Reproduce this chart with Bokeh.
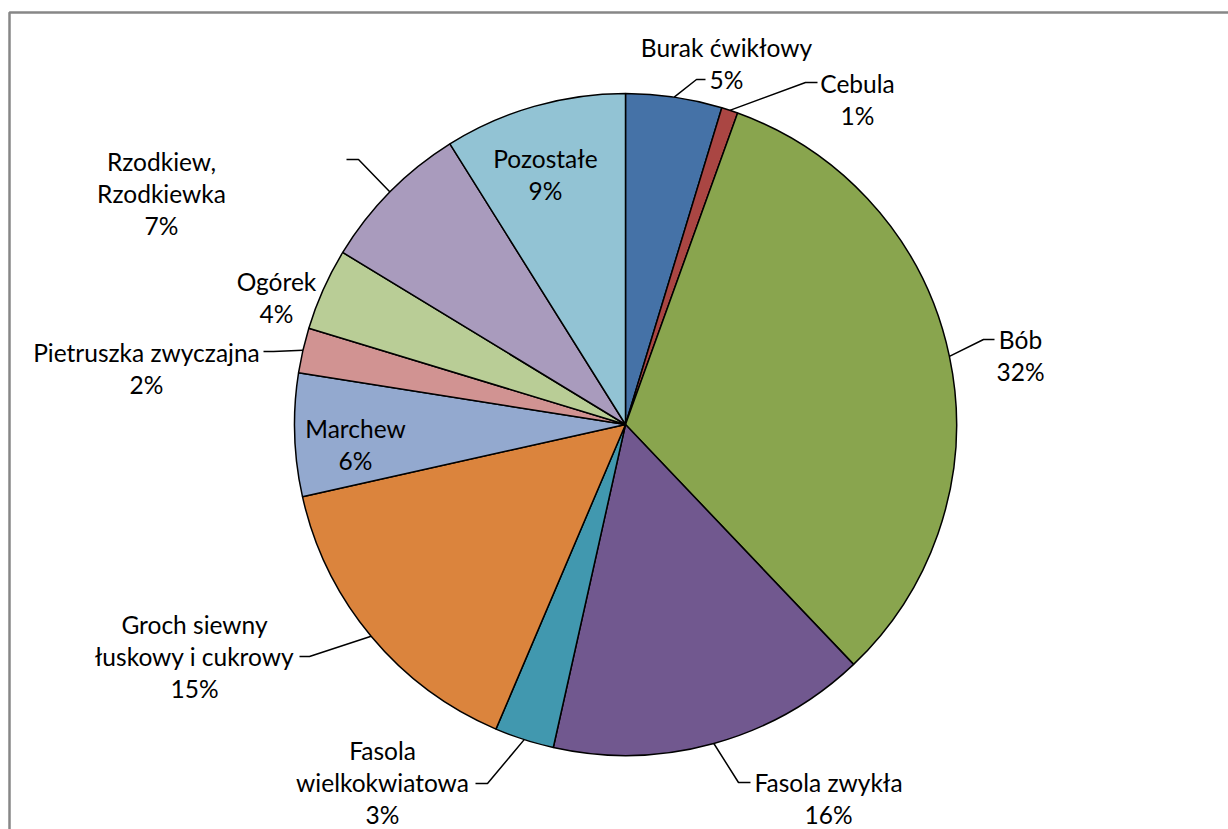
import math
from bokeh.plotting import figure
from bokeh.models import Range1d, ColumnDataSource
from bokeh.core.properties import value
from bokeh.embed import file_html
from bokeh.resources import INLINE

# ---- data ----
names = ["Burak ćwikłowy", "Cebula", "Bób", "Fasola zwykła", "Fasola\nwielkokwiatowa",
         "Groch siewny\nłuskowy i cukrowy", "Marchew", "Pietruszka zwyczajna", "Ogórek",
         "Rzodkiew,\nRzodkiewka", "Pozostałe"]
shares = [4.7, 0.8, 32.4, 15.6, 2.9, 15.1, 6.0, 2.2, 4.0, 7.4, 8.9]
colors = ["#4572A7", "#AA4643", "#89A54E", "#71588F", "#4198AF", "#DB843D",
          "#93A9CF", "#D19392", "#B9CD96", "#A99BBD", "#92C3D4"]

# ---- layout (picture pixel coordinates) ----
W, H = 1228, 829
CX, CY, R = 625, 424, 331
FONT = "Lato"
FS = 24.5
LINE_H = 32
# label anchor: (centre x, baseline of first line)
label_pos = [(726, 47), (857, 83), (1020, 339), (828, 782), (382, 750), (194, 624),
             (355, 428), (146, 352), (276, 281), (161, 161), (545, 158)]
# leader lines: (elbow, end) or None
leaders = [((696, 79), (705, 79)), ((805, 82), (817, 82)), ((983, 339), (994, 339)),
           ((738, 782), (750, 782)), ((487, 783), (475, 783)), ((309, 656), (299, 656)),
           None, ((273, 351), (263, 351)), None, ((358, 159), (346, 159)), None]


def dy(py):  # picture y -> data y
    return H - py


p = figure(width=W, height=H, output_backend="svg", toolbar_location=None,
           x_range=Range1d(0, W), y_range=Range1d(0, H),
           min_border=0, min_border_left=0, min_border_right=0,
           min_border_top=0, min_border_bottom=0)
p.xaxis.visible = False
p.yaxis.visible = False
p.grid.visible = False
p.outline_line_color = None
p.background_fill_color = "white"
p.border_fill_color = "white"

# chart border (top and left edges visible)
p.line([9, 9, W], [dy(H), dy(12), dy(12)], line_color="#878787", line_width=2.5)

total = sum(shares)
starts, ends, mids = [], [], []
acc = 0.0
for v in shares:
    a0 = math.pi / 2 - 2 * math.pi * acc / total
    acc += v
    a1 = math.pi / 2 - 2 * math.pi * acc / total
    starts.append(a0)
    ends.append(a1)
    mids.append((a0 + a1) / 2)

src = ColumnDataSource(dict(x=[CX] * len(shares), y=[dy(CY)] * len(shares),
                            start=starts, end=ends, color=colors))
p.wedge(x="x", y="y", radius=R, start_angle="start", end_angle="end",
        direction="clock", fill_color="color", line_color="black", line_width=1.5,
        source=src)

# leader lines
for m, ld in zip(mids, leaders):
    if ld is None:
        continue
    sx = CX + R * math.cos(m)
    sy = dy(CY) + R * math.sin(m)
    (ex, ey), (fx, fy) = ld
    p.line([sx, ex, fx], [sy, dy(ey), dy(fy)], line_color="black", line_width=1.5)

# labels
tx, ty, tt = [], [], []
for nm, v, (lx, ly) in zip(names, shares, label_pos):
    lines = nm.split("\n") + [f"{round(v / total * 100)}%"]
    for i, ln in enumerate(lines):
        tx.append(lx)
        ty.append(dy(ly + i * LINE_H))
        tt.append(ln)
p.text(x=tx, y=ty, text=tt, text_align="center", text_baseline="alphabetic",
       text_font=value(FONT), text_font_size=f"{FS}px", text_color="#000000")

open("out.html", "w").write(file_html(p, INLINE))
